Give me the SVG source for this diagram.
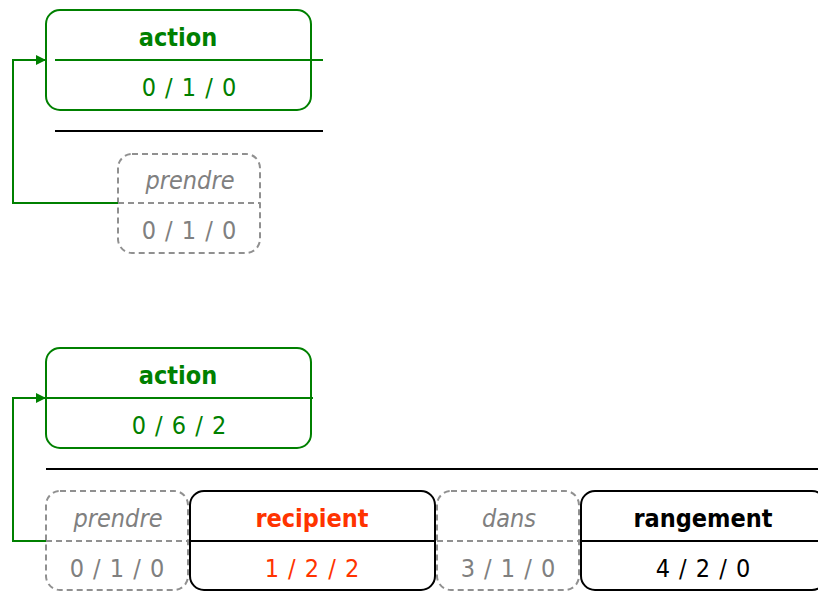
<svg xmlns="http://www.w3.org/2000/svg" width="818" height="592" viewBox="0 0 818 592">
<defs>
<marker id="arr" viewBox="0 0 10 10" refX="10" refY="5" markerWidth="12" markerHeight="10" markerUnits="userSpaceOnUse" orient="auto">
<path d="M0,0 L10,5 L0,10 z" fill="#008000"/>
</marker>
<style>
text{font-family:"DejaVu Sans Condensed","DejaVu Sans","Liberation Sans",sans-serif;font-stretch:condensed;text-anchor:middle;font-size:25px}
.t{font-weight:bold}
.i{font-style:italic;fill:#808080}
.v{word-spacing:2px}
.gr{fill:#808080}
.g{fill:#008000}
.r{fill:#ff3300}
.k{fill:#000}
.gb{fill:none;stroke:#008000;stroke-width:2}
.kb{fill:none;stroke:#000;stroke-width:2}
.db{fill:none;stroke:#909090;stroke-width:2;stroke-dasharray:6,4}
.conn{fill:none;stroke:#008000;stroke-width:2}
.sep{stroke:#000;stroke-width:2}
</style>
</defs>
<rect width="818" height="592" fill="#fff"/>

<g id="action1">
<rect class="gb" x="46" y="10" width="265" height="100" rx="14"/>
<line class="gb" x1="55" y1="60" x2="323" y2="60"/>
<text class="t g" x="178" y="46">action</text>
<text class="v g" x="189" y="96">0 / 1 / 0</text>
</g>
<line class="sep" x1="55" y1="131" x2="323" y2="131"/>
<g id="prendre1">
<rect class="db" x="118" y="154" width="142" height="99" rx="14"/>
<line class="db" x1="118" y1="203" x2="260" y2="203"/>
<text class="i" x="190" y="189">prendre</text>
<text class="v gr" x="189" y="239">0 / 1 / 0</text>
</g>

<g id="action2">
<rect class="gb" x="46" y="348" width="265" height="100" rx="14"/>
<line class="gb" x1="46" y1="398" x2="313" y2="398"/>
<text class="t g" x="178" y="384">action</text>
<text class="v g" x="179" y="434">0 / 6 / 2</text>
</g>
<line class="sep" x1="46" y1="469" x2="818" y2="469"/>
<g id="prendre2">
<rect class="db" x="46" y="491" width="142" height="99" rx="14"/>
<line class="db" x1="46" y1="541" x2="188" y2="541"/>
<text class="i" x="118" y="527">prendre</text>
<text class="v gr" x="117" y="577">0 / 1 / 0</text>
</g>
<g id="recipient">
<rect class="kb" x="190" y="491" width="245" height="99" rx="14"/>
<line class="kb" x1="190" y1="541" x2="435" y2="541"/>
<text class="t r" x="312" y="527">recipient</text>
<text class="v r" x="312" y="577">1 / 2 / 2</text>
</g>
<g id="dans">
<rect class="db" x="437" y="491" width="142" height="99" rx="14"/>
<line class="db" x1="437" y1="541" x2="579" y2="541"/>
<text class="i" x="509" y="527">dans</text>
<text class="v gr" x="508" y="577">3 / 1 / 0</text>
</g>
<g id="rangement">
<rect class="kb" x="581" y="491" width="245" height="99" rx="14"/>
<line class="kb" x1="581" y1="541" x2="818" y2="541"/>
<text class="t k" x="703" y="527">rangement</text>
<text class="v k" x="703" y="577">4 / 2 / 0</text>
</g>

<g id="connectors">
<polyline class="conn" points="118,203 13,203 13,60 46,60" marker-end="url(#arr)"/>
<polyline class="conn" points="46,541 13,541 13,398 46,398" marker-end="url(#arr)"/>
</g>
</svg>
